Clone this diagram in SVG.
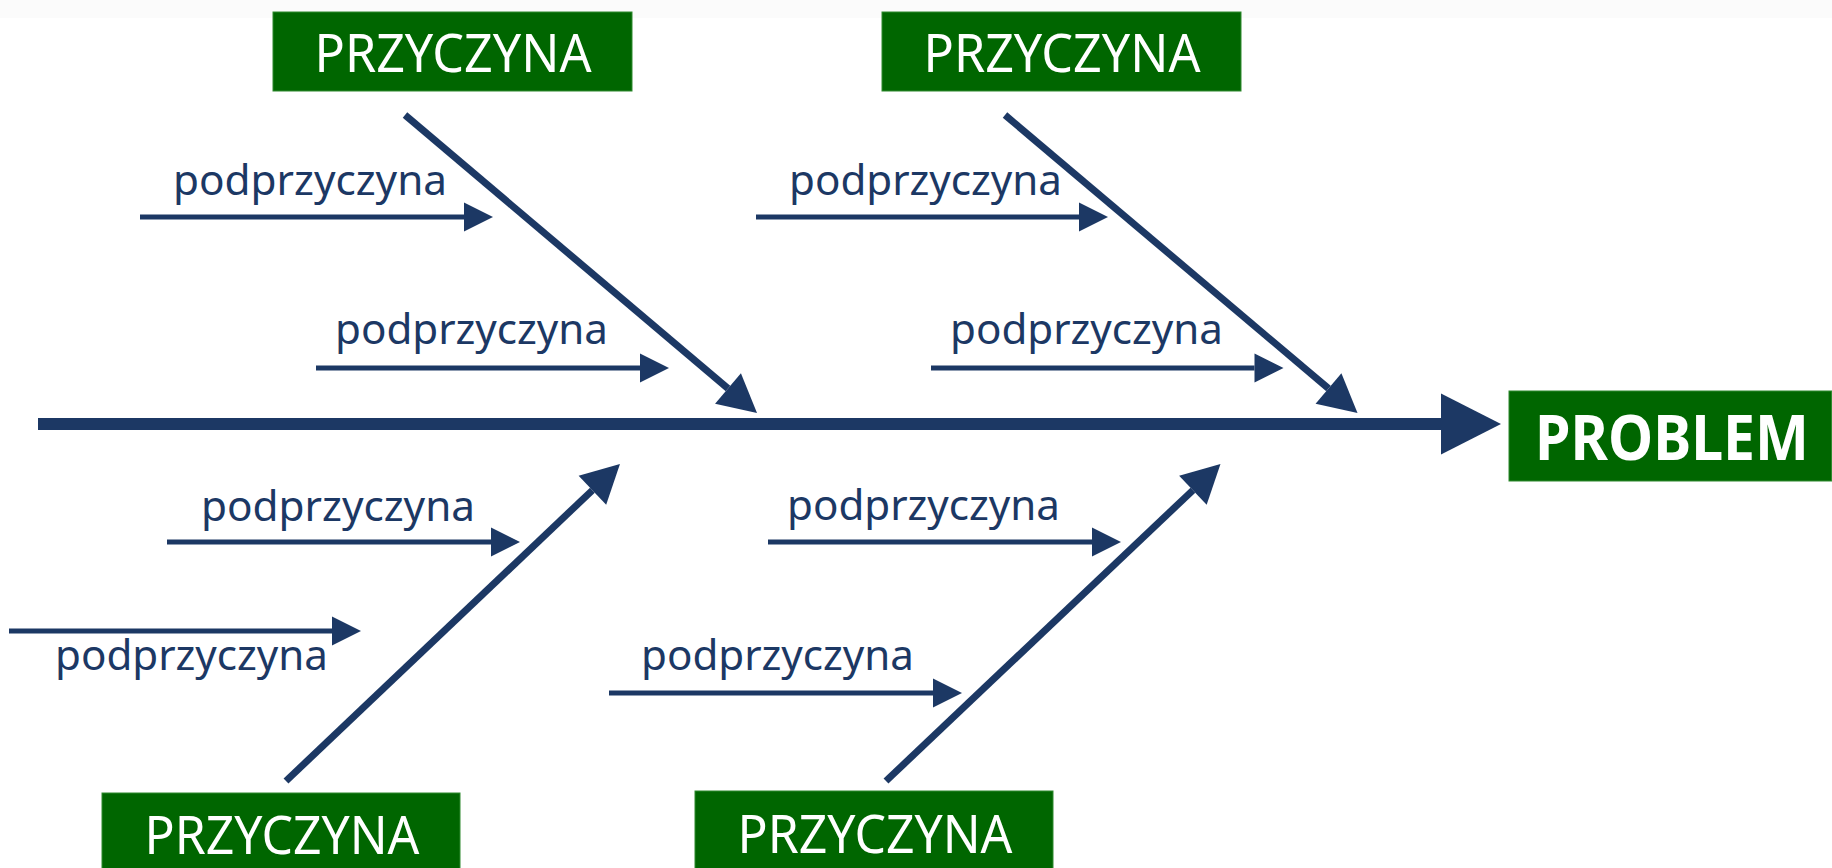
<svg xmlns="http://www.w3.org/2000/svg" width="1832" height="868" viewBox="0 0 1832 868">
  <style>
    .box { fill: #006600; stroke: #2e8a2e; stroke-width: 1; }
    .cause { font-family: "Noto Sans", "DejaVu Sans", sans-serif; font-size: 53px; fill: #ffffff; text-anchor: middle; }
    .prob { font-family: "Noto Sans", "DejaVu Sans", sans-serif; font-size: 62px; font-weight: bold; fill: #ffffff; text-anchor: middle; }
    .sub { font-family: "Noto Sans", "DejaVu Sans", sans-serif; font-size: 42px; fill: #1c3864; }
    .spine { stroke: #1c3864; stroke-width: 12; fill: none; }
    .bone { stroke: #1c3864; stroke-width: 7; fill: none; }
    .twig { stroke: #1c3864; stroke-width: 5; fill: none; }
  </style>
  <defs>
    <marker id="headMain" markerUnits="userSpaceOnUse" markerWidth="61" markerHeight="62" refX="0" refY="30.5" orient="auto" overflow="visible">
      <path d="M0,0 L60,30.5 L0,61 z" fill="#1c3864"/>
    </marker>
    <marker id="headBone" markerUnits="userSpaceOnUse" markerWidth="39" markerHeight="41" refX="0" refY="20" orient="auto" overflow="visible">
      <path d="M0,0 L38,20 L0,40 z" fill="#1c3864"/>
    </marker>
    <marker id="headTwig" markerUnits="userSpaceOnUse" markerWidth="30" markerHeight="30" refX="0" refY="14.5" orient="auto" overflow="visible">
      <path d="M0,0 L29,14.5 L0,29 z" fill="#1c3864"/>
    </marker>
  </defs>
  <rect x="0" y="0" width="1832" height="868" fill="#ffffff"/>
  <rect x="0" y="0" width="1832" height="18" fill="#fbfbfb"/>

  <g id="connectors">
    <line class="spine" x1="38" y1="424" x2="1441" y2="424" marker-end="url(#headMain)"/>
    <line class="bone" x1="405" y1="115" x2="728" y2="388.5" marker-end="url(#headBone)"/>
    <line class="bone" x1="1005" y1="115" x2="1328.5" y2="388.5" marker-end="url(#headBone)"/>
    <line class="bone" x1="286" y1="781" x2="592.4" y2="490.2" marker-end="url(#headBone)"/>
    <line class="bone" x1="886" y1="781" x2="1192.9" y2="490.2" marker-end="url(#headBone)"/>
    <line class="twig" x1="140" y1="217" x2="464" y2="217" marker-end="url(#headTwig)"/>
    <line class="twig" x1="316" y1="368" x2="640" y2="368" marker-end="url(#headTwig)"/>
    <line class="twig" x1="756" y1="217" x2="1079" y2="217" marker-end="url(#headTwig)"/>
    <line class="twig" x1="931" y1="368" x2="1254.5" y2="368" marker-end="url(#headTwig)"/>
    <line class="twig" x1="167" y1="542" x2="491" y2="542" marker-end="url(#headTwig)"/>
    <line class="twig" x1="9" y1="631" x2="332" y2="631" marker-end="url(#headTwig)"/>
    <line class="twig" x1="768" y1="542" x2="1092" y2="542" marker-end="url(#headTwig)"/>
    <line class="twig" x1="609" y1="693" x2="933" y2="693" marker-end="url(#headTwig)"/>
  </g>

  <g id="problem">
    <rect class="box" x="1509" y="391" width="322.5" height="90"/>
    <text class="prob" x="1672" y="460" textLength="274" lengthAdjust="spacingAndGlyphs">PROBLEM</text>
  </g>

  <g id="cause-top-left">
    <rect class="box" x="273" y="12" width="359" height="79"/>
    <text class="cause" x="453" y="72" textLength="277" lengthAdjust="spacingAndGlyphs">PRZYCZYNA</text>
  </g>
  <g id="cause-top-right">
    <rect class="box" x="882" y="12" width="359" height="79"/>
    <text class="cause" x="1062" y="72" textLength="277" lengthAdjust="spacingAndGlyphs">PRZYCZYNA</text>
  </g>
  <g id="cause-bottom-left">
    <rect class="box" x="102" y="793" width="358" height="80"/>
    <text class="cause" x="282" y="854" textLength="275" lengthAdjust="spacingAndGlyphs">PRZYCZYNA</text>
  </g>
  <g id="cause-bottom-right">
    <rect class="box" x="695" y="791" width="358" height="82"/>
    <text class="cause" x="875" y="853" textLength="275" lengthAdjust="spacingAndGlyphs">PRZYCZYNA</text>
  </g>

  <g id="sub-tl-1"><text class="sub" x="173" y="195" textLength="274" lengthAdjust="spacingAndGlyphs">podprzyczyna</text></g>
  <g id="sub-tl-2"><text class="sub" x="335" y="344" textLength="273" lengthAdjust="spacingAndGlyphs">podprzyczyna</text></g>
  <g id="sub-tr-1"><text class="sub" x="789" y="195" textLength="273" lengthAdjust="spacingAndGlyphs">podprzyczyna</text></g>
  <g id="sub-tr-2"><text class="sub" x="950" y="344" textLength="273" lengthAdjust="spacingAndGlyphs">podprzyczyna</text></g>
  <g id="sub-bl-1"><text class="sub" x="201" y="521" textLength="274" lengthAdjust="spacingAndGlyphs">podprzyczyna</text></g>
  <g id="sub-bl-2"><text class="sub" x="55" y="670" textLength="273" lengthAdjust="spacingAndGlyphs">podprzyczyna</text></g>
  <g id="sub-br-1"><text class="sub" x="787" y="520" textLength="273" lengthAdjust="spacingAndGlyphs">podprzyczyna</text></g>
  <g id="sub-br-2"><text class="sub" x="641" y="670" textLength="273" lengthAdjust="spacingAndGlyphs">podprzyczyna</text></g>
</svg>
